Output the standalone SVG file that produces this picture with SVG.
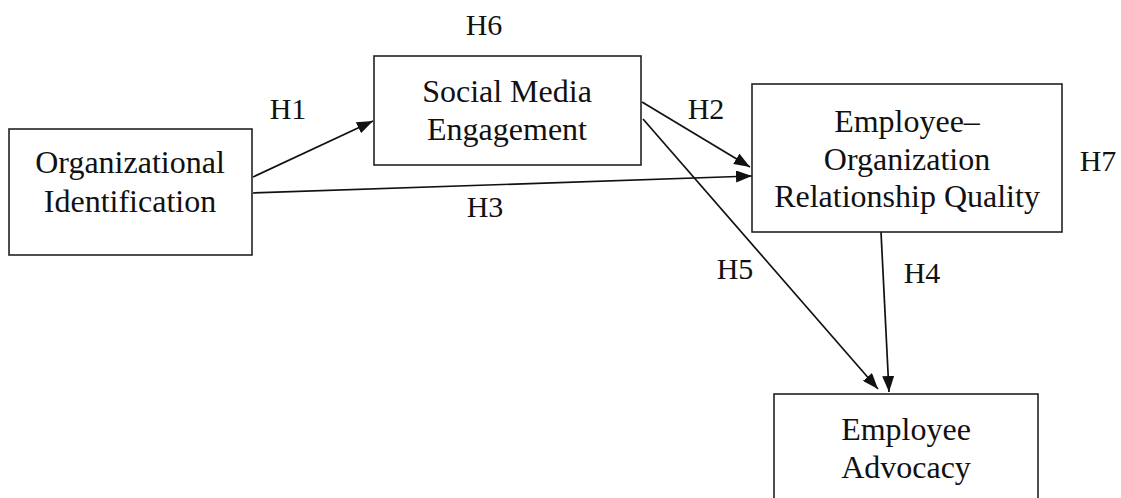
<svg xmlns="http://www.w3.org/2000/svg" width="1121" height="498" viewBox="0 0 1121 498">
<defs>
<style>
.box{fill:#fff;stroke:#222;stroke-width:1.6}
.t{font-family:"Liberation Serif","Times New Roman",serif;font-size:32px;fill:#111;text-anchor:middle}
.h{font-family:"Liberation Serif","Times New Roman",serif;font-size:30px;fill:#111;text-anchor:middle}
.c{stroke:#111;stroke-width:1.7;fill:none}
</style>
<marker id="ah" viewBox="0 0 16 12" refX="16" refY="6" markerWidth="16" markerHeight="12" markerUnits="userSpaceOnUse" orient="auto">
<path d="M0,0 L16,6 L0,12 Z" fill="#111"/>
</marker>
</defs>
<rect width="1121" height="498" fill="#fff"/>
<g id="connectors">
<line class="c" x1="253" y1="177" x2="373" y2="121" marker-end="url(#ah)"/>
<line class="c" x1="253" y1="193" x2="752" y2="176" marker-end="url(#ah)"/>
<line class="c" x1="642" y1="102" x2="750" y2="167" marker-end="url(#ah)"/>
<line class="c" x1="643" y1="119" x2="878" y2="389" marker-end="url(#ah)"/>
<line class="c" x1="881" y1="232" x2="889" y2="392" marker-end="url(#ah)"/>
</g>
<g id="node-oi">
<rect class="box" x="9" y="129" width="243" height="126"/>
<text class="t" x="130" y="173">Organizational</text>
<text class="t" x="130" y="212">Identification</text>
</g>
<g id="node-sme">
<rect class="box" x="374" y="56" width="267" height="109"/>
<text class="t" x="507" y="102">Social Media</text>
<text class="t" x="507" y="140">Engagement</text>
</g>
<g id="node-eorq">
<rect class="box" x="752" y="84" width="310" height="148"/>
<text class="t" x="907" y="132">Employee–</text>
<text class="t" x="907" y="170">Organization</text>
<text class="t" x="907" y="207">Relationship Quality</text>
</g>
<g id="node-ea">
<rect class="box" x="774" y="394" width="264" height="110"/>
<text class="t" x="906" y="440">Employee</text>
<text class="t" x="906" y="478">Advocacy</text>
</g>
<g id="labels">
<text class="h" x="484" y="35">H6</text>
<text class="h" x="288" y="119">H1</text>
<text class="h" x="706" y="119">H2</text>
<text class="h" x="485" y="217">H3</text>
<text class="h" x="735" y="279">H5</text>
<text class="h" x="922" y="283">H4</text>
<text class="h" x="1098" y="171">H7</text>
</g>
</svg>
